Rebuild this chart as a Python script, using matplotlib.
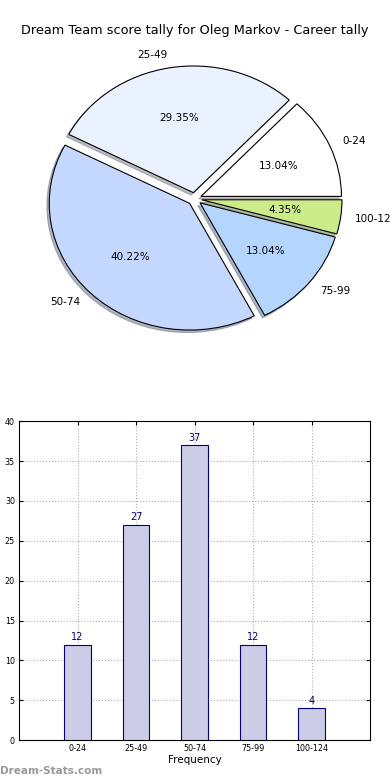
import matplotlib
matplotlib.use('Agg')
import matplotlib.pyplot as plt

# score bands and how many games fell in each
bands = ['0-24', '25-49', '50-74', '75-99', '100-124']
counts = [12, 27, 37, 12, 4]
slice_colors = ['#ffffff', '#eaf2ff', '#c4d8ff', '#b4d5fe', '#ccec8a']
title = 'Dream Team score tally for Oleg Markov - Career tally'

fig = plt.figure(figsize=(3.9, 7.8), dpi=100)

# pie on top (old style: not forced circular)
ax1 = fig.add_axes([0.049, 0.542, 0.90, 0.406])
wedges, texts, autotexts = ax1.pie(
    counts, labels=bands, colors=slice_colors, explode=[0.05] * len(counts),
    autopct='%1.2f%%', shadow={'ox': -0.012, 'oy': -0.014, 'shade': 0.5},
    wedgeprops={'edgecolor': 'black', 'linewidth': 0.8},
    textprops={'fontsize': 7.5})
ax1.set_aspect('auto')
ax1.set_xlim(-1.25, 1.25)
ax1.set_ylim(-1.25, 1.25)
ax1.axis('off')
fig.text(0.5, 0.961, title, ha='center', va='center', fontsize=9.3)

# bar chart below
ax2 = fig.add_axes([0.049, 0.051, 0.90, 0.409])
x = list(range(len(bands)))
ax2.bar(x, counts, width=0.45, color='#cccce6', edgecolor='#000080', linewidth=0.8, zorder=3)
for xi, c in zip(x, counts):
    ax2.text(xi, c + 0.3, str(c), ha='center', va='bottom', fontsize=7, color='#000080', zorder=4)
ax2.set_xlim(-1, 5)
ax2.set_ylim(0, 40)
ax2.set_xticks(x)
ax2.set_xticklabels(bands)
ax2.set_yticks(range(0, 41, 5))
ax2.tick_params(labelsize=5.8, direction='in', top=True, right=True, length=3, pad=3)
ax2.grid(True, linestyle=':', color='#b0b0b0', linewidth=0.8, zorder=0)
ax2.set_xlabel('Frequency', fontsize=7.5, labelpad=1)

fig.text(0.0, 0.012, 'Dream-Stats.com', ha='left', va='center', fontsize=7.5,
         color='#999999', fontweight='bold')

fig.savefig('out.png', dpi=100)
